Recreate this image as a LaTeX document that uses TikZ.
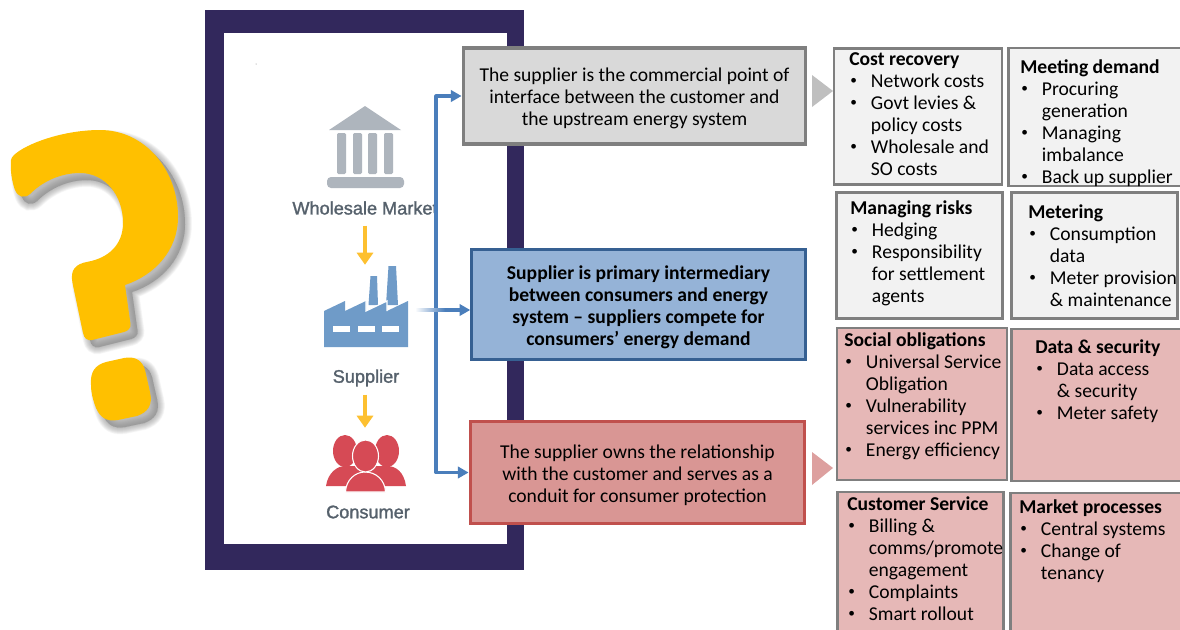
\documentclass[tikz,border=0pt]{standalone}
\usepackage{fontspec}
\setmainfont{Carlito}
\newfontfamily\iconfont[FakeBold=1.5]{Liberation Sans}
\usetikzlibrary{arrows.meta}
\definecolor{frameC}{HTML}{32285C}
\definecolor{qmarkC}{HTML}{FFC000}
\definecolor{arrowC}{HTML}{4A7EBB}
\definecolor{greyFill}{HTML}{D9D9D9}
\definecolor{greyLine}{HTML}{7F7F7F}
\definecolor{blueFill}{HTML}{95B3D7}
\definecolor{blueLine}{HTML}{366092}
\definecolor{redFill}{HTML}{D99694}
\definecolor{redLine}{HTML}{C0504D}
\definecolor{panelGrey}{HTML}{F2F2F2}
\definecolor{panelRed}{HTML}{E6B8B7}
\definecolor{bankC}{HTML}{AEB5BD}
\definecolor{factoryC}{HTML}{6F9BC8}
\definecolor{peopleC}{HTML}{D64A55}
\definecolor{labelC}{HTML}{56616C}
\definecolor{yellowC}{HTML}{FDC030}
\newcommand{\itm}{\makebox[16.25pt][l]{\hspace{.75pt}\raisebox{2.2pt}{\fontsize{10}{10}\selectfont\textbullet}}}
\newcommand{\cnt}{\hspace*{16.25pt}}
\newcommand{\lift}{\rule{0pt}{14.5pt}}
\tikzset{
  mainbox/.style={draw,line width=2.4pt,align=center,inner sep=0pt,font=\fontsize{14.7}{16.5}\selectfont},
  panelbox/.style={draw=greyLine,line width=2.2pt,inner sep=0pt},
  paneltext/.style={anchor=north west,align=left,inner sep=0pt,font=\fontsize{14.7}{16.5}\selectfont},
  iconlabel/.style={inner sep=0pt,text=labelC,font=\iconfont\fontsize{13.6}{16}\selectfont},
  iconspot/.style={inner sep=0pt},
  bluearrow/.style={draw=arrowC,line width=2.4pt,line join=round,-{Triangle[length=8pt,width=8.5pt]}},
  yellowarrow/.style={draw=yellowC,line width=3.6pt,-{Triangle[length=9pt,width=12pt]}},
  qmarkpath/.style={insert path={
    (11,160) .. controls (12,150) and (55,130) .. (100,130)
    .. controls (145,130) and (178,170) .. (178,217)
    .. controls (178,250) and (155,275) .. (125,285)
    -- (130.5,324) .. controls (131,328) and (128,331) .. (124,332)
    -- (92,340) .. controls (87,341) and (84,338) .. (83,333)
    -- (72.5,283) .. controls (70,270) and (75,264) .. (88,261.7)
    .. controls (108,258) and (123,245) .. (123,223)
    .. controls (123,195) and (105,173) .. (80,173)
    .. controls (60,173) and (42,182) .. (30,194)
    .. controls (24,199) and (18,197) .. (15,190)
    .. controls (12,182) and (10,170) .. (11,160) -- cycle
    (91,385) .. controls (90,372) and (95,365) .. (106,362)
    -- (124,358) .. controls (135,356) and (142,360) .. (145,370)
    -- (150,392) .. controls (153,405) and (148,412) .. (137,416)
    -- (118,420) .. controls (106,422) and (100,417) .. (96,408)
    .. controls (93,400) and (91,393) .. (91,385) -- cycle}}
}
\begin{document}
\begin{tikzpicture}[x=0.75pt,y=-0.75pt]
    \useasboundingbox (0,0) rectangle (1180,629);
    \clip (0,0) rectangle (1180,629);
    % question mark with its soft shadow
    \foreach \w in {14,13,...,0}{
    \fill[gray,opacity=0.05,draw=gray,line width=\w*0.75pt,shift={(7,7)},qmarkpath];
    }
    \fill[qmarkC,qmarkpath];
    % frame
    \fill[frameC](205,10) rectangle (524,570);
    \fill[white](224,33) rectangle (507,544);
    \fill[gray](256,64) circle (0.5);
    % wholesale market icon
    \fill[bankC](329,130)--(365,106)--(401,130)--cycle;
    \foreach \x in {337,353,368,384}{
    \fill[bankC,rounded corners=1pt](\x,133) rectangle (\x+9,174);
    }
    \fill[bankC,rounded corners=3pt](327,177) rectangle (404,188);
    \node[iconlabel](wholesale) at (365,208){Wholesale Market};
    % supplier icon
    \node[iconspot,minimum width=63pt,minimum height=61.5pt](factory) at (365,306){};
    \fill[factoryC](370.5,276)--(377,276)--(378,305)--(368.5,305)--cycle;
    \fill[factoryC](388.5,266)--(396,266)--(398,305)--(386,305)--cycle;
    \fill[factoryC](324,347)--(324,311)--(345,301)--(345,311)--(366,301)--(366,311)--(387,301)--(387,311)--(408,301)--(408,347)--cycle;
    \draw[white,line width=0.9pt](366,301)--(366,311)--(387,301)--(387,311);
    \foreach \x in {333,358,382}{
    \fill[white](\x,326) rectangle (\x+17,332);
    }
    \node[iconlabel](supplier) at (366,378){Supplier};
    % consumer icon
    \node[iconspot,minimum width=60pt,minimum height=48pt](consumer) at (365,460){};
    \fill[peopleC](345,451) ellipse [x radius=12,y radius=16];
    \fill[peopleC](387,451) ellipse [x radius=12,y radius=16];
    \fill[peopleC](326,486) .. controls (328,472) and (338,466) .. (345,466) -- (387,466) .. controls (396,466) and (404,472) .. (406,486) --cycle;
    \fill[peopleC,draw=white,line width=0.8pt](345.5,492) .. controls (346,480) and (355,472) .. (365,472) .. controls (376,472) and (385,480) .. (385.5,492) --cycle;
    \fill[peopleC,draw=white,line width=0.8pt](365.5,456) ellipse [x radius=13,y radius=16];
    \node[iconlabel](consumerlabel) at (368,512){Consumer};
    \draw[yellowarrow,shorten <=8pt](wholesale.south)--(wholesale.south|-factory.north);
    \draw[yellowarrow,shorten <=6pt](consumer.north|-supplier.south)--(consumer.north);
    % three statements
    \node[mainbox,draw=greyLine,fill=greyFill,minimum width=257pt,minimum height=72pt](interface) at (634.5,96){\lift The supplier is the commercial point of\\interface between the customer and\\the upstream energy system};
    \node[mainbox,draw=blueLine,fill=blueFill,minimum width=250pt,minimum height=83pt,font=\fontsize{14.7}{16.5}\selectfont\bfseries](intermediary) at (638.5,304.5){\lift Supplier is primary intermediary\\between consumers and energy\\system -- suppliers compete for\\consumers' energy demand};
    \node[mainbox,draw=redLine,fill=redFill,minimum width=251pt,minimum height=76pt](relationship) at (637.5,472.5){\lift The supplier owns the relationship\\with the customer and serves as a\\conduit for consumer protection};
    % blue connectors
    \coordinate (trunk) at (436,310);
    \coordinate (fade) at (445,310);
    \draw[bluearrow](trunk)|-(interface.west);
    \draw[bluearrow](trunk)|-(relationship.west);
    \shade[left color=white,right color=arrowC](415,308.5) rectangle (445,311.5);
    \draw[bluearrow](fade)--(fade-|intermediary.west);
    % pointers to the panels
    \fill[gray!50](812,75)--(833,91)--(812,107)--cycle;
    \fill[redFill!90!white](812,452)--(833,468)--(812,485)--cycle;
    % grey panels
    \node[panelbox,fill=panelGrey,minimum width=126pt,minimum height=101.5pt](costs) at (918,116.5){};
    \node[paneltext] at (849,50){\strut\textbf{Cost recovery}\\\itm Network costs\\\itm Govt levies \&\\\cnt policy costs\\\itm Wholesale and\\\cnt SO costs};
    \node[panelbox,fill=panelGrey,minimum width=130pt,minimum height=103.5pt](demand) at (1095,117){};
    \node[paneltext] at (1020,58){\strut\textbf{Meeting demand}\\\itm Procuring\\\cnt generation\\\itm Managing\\\cnt imbalance\\\itm Back up supplier};
    \node[panelbox,fill=panelGrey,minimum width=125pt,minimum height=95pt](risks) at (919.5,255.5){};
    \node[paneltext] at (850,199){\strut\textbf{Managing risks}\\\itm Hedging\\\itm Responsibility\\\cnt for settlement\\\cnt agents};
    \node[panelbox,fill=panelGrey,minimum width=125pt,minimum height=95pt](metering) at (1094.5,255.5){};
    \node[paneltext] at (1028,203){\strut\textbf{Metering}\\\itm Consumption\\\cnt data\\\itm Meter provision\\\cnt \& maintenance};
    % red panels
    \node[panelbox,fill=panelRed,minimum width=127.5pt,minimum height=114pt](social) at (922,404){};
    \node[paneltext] at (844,331){\strut\textbf{Social obligations}\\\itm Universal Service\\\cnt Obligation\\\itm Vulnerability\\\cnt services inc PPM\\\itm Energy efficiency};
    \node[panelbox,fill=panelRed,minimum width=130pt,minimum height=114pt](data) at (1098,405){};
    \node[paneltext] at (1035,338){\strut\textbf{Data \& security}\\\itm Data access\\\cnt \& security\\\itm Meter safety};
    \node[panelbox,fill=panelRed,minimum width=125pt,minimum height=120pt](service) at (920.5,572){};
    \node[paneltext] at (847,495){\strut\textbf{Customer Service}\\\itm Billing \&\\\cnt comms/promote\\\cnt engagement\\\itm Complaints\\\itm Smart rollout};
    \node[panelbox,fill=panelRed,minimum width=130pt,minimum height=120pt](market) at (1097,573){};
    \node[paneltext] at (1019,498){\strut\textbf{Market processes}\\\itm Central systems\\\itm Change of\\\cnt tenancy};
\end{tikzpicture}
\end{document}
